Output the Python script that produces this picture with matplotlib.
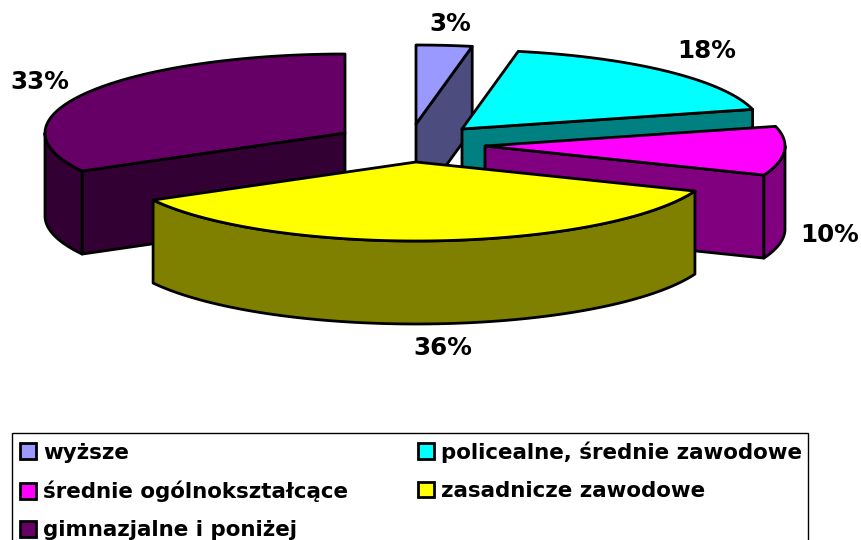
import numpy as np
import matplotlib
matplotlib.use("Agg")
import matplotlib.pyplot as plt
from matplotlib.patches import Polygon, Patch, Rectangle

categories = ["wyższe", "policealne, średnie zawodowe", "średnie ogólnokształcące",
              "zasadnicze zawodowe", "gimnazjalne i poniżej"]
values = [3, 18, 10, 36, 33]
labels = ["3%", "18%", "10%", "36%", "33%"]
top_colors = ["#9999FF", "#00FFFF", "#FF00FF", "#FFFF00", "#660066"]
side_colors = ["#4C4C7F", "#008080", "#800080", "#808000", "#330033"]

# layout (pixel space of the figure)
apex_x = [416, 462, 485, 416, 345]
apex_y = [124, 129, 146, 162, 133]
label_x = [450, 707, 830, 443, 40]
label_y = [24, 51, 235, 348, 82]
RX, RY, DEPTH = 300, 79, 83
draw_order = [0, 1, 4, 2, 3]
LW = 2.0

fig = plt.figure(figsize=(8.61, 5.40), dpi=100)
ax = fig.add_axes([0, 0, 1, 1])
ax.set_xlim(0, 861)
ax.set_ylim(540, 0)
ax.axis("off")

plt.rcParams["font.family"] = ["DejaVu Sans"]
fracs = np.array(values) / sum(values)
edges = np.concatenate([[0], np.cumsum(fracs)]) * 360


def pt(i, deg):
    t = np.radians(deg)
    return apex_x[i] + RX * np.sin(t), apex_y[i] - RY * np.cos(t)


def arc(i, a, b, n=80):
    t = np.radians(np.linspace(a, b, n))
    return np.column_stack([apex_x[i] + RX * np.sin(t), apex_y[i] - RY * np.cos(t)])


def add(poly, fc, z):
    ax.add_patch(Polygon(poly, closed=True, fc=fc, ec="black", lw=LW,
                         joinstyle="round", zorder=z))


z = 1
for i in draw_order:
    a, b = edges[i], edges[i + 1]
    apex = (apex_x[i], apex_y[i])
    down = np.array([0, DEPTH])
    # radial wall at the clockwise end, visible when it faces the viewer
    if 0 < b < 180:
        p = np.array(pt(i, b))
        add([apex, p, p + down, np.array(apex) + down], side_colors[i], z)
        z += 1
    # radial wall at the clockwise start, visible on the left half
    if 180 < a < 360:
        p = np.array(pt(i, a))
        add([apex, p, p + down, np.array(apex) + down], side_colors[i], z)
        z += 1
    # outer wall: only the front half of the rim
    lo, hi = max(a, 90), min(b, 270)
    if lo < hi:
        rim = arc(i, lo, hi)
        add(np.vstack([rim, (rim + down)[::-1]]), side_colors[i], z)
        z += 1
    rim = arc(i, a, b)
    add(np.vstack([[apex], rim]), top_colors[i], z)
    z += 1

for x, y, s in zip(label_x, label_y, labels):
    ax.text(x, y, s, ha="center", va="center", fontsize=17.7, fontweight="bold",
            color="black", zorder=z)

# legend frame runs past the bottom edge of the picture, as in the reference
ax.add_patch(Rectangle((12, 433), 796, 130, fc="white", ec="black", lw=1.0, zorder=z))
handles = [Patch(fc=top_colors[i], ec="black", lw=LW, label=categories[i])
           for i in [0, 2, 4, 1, 3]]
leg = ax.legend(handles=handles, ncols=2, loc="upper left",
                bbox_to_anchor=(12 / 861, 1 - 433 / 540), borderaxespad=0,
                frameon=False,
                prop={"size": 15.4, "weight": "bold"},
                handlelength=0.75, handleheight=0.75, handletextpad=0.33,
                labelspacing=0.85, columnspacing=3.25, borderpad=0.38)
leg.set_zorder(z + 1)

fig.savefig("out.png", dpi=100)
